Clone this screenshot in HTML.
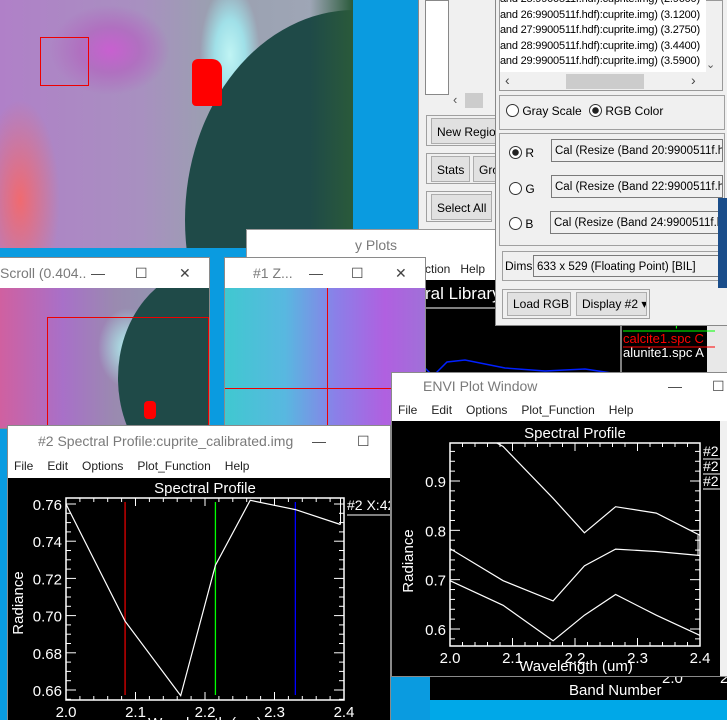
<!DOCTYPE html>
<html><head><meta charset="utf-8">
<style>
html,body{margin:0;padding:0;width:727px;height:720px;overflow:hidden;background:#0a9be0;font-family:"Liberation Sans",sans-serif}
#root{position:relative;width:727px;height:720px}
.abs{position:absolute}
.win{position:absolute;background:#fff;box-shadow:0 0 0 1px #8a8a8a}
.title{position:absolute;left:0;right:0;top:0;height:30px;background:#fff;color:#7a7a7a;font-size:14px;line-height:30px;white-space:nowrap;overflow:hidden}
.menu{position:absolute;left:0;right:0;font-size:12px;color:#222;background:#fff;white-space:nowrap}
.menu span{margin-left:6px;margin-right:8px}
.btn{position:absolute;background:#e1e1e1;border:1px solid #adadad;font-size:12px;line-height:26px;padding:0 5px;color:#000;box-sizing:border-box;white-space:nowrap;overflow:hidden}
.grp{position:absolute;border:1px solid #a0a0a0;box-sizing:border-box}
.inp{position:absolute;background:#f0f0f0;border:1px solid #7a7a7a;font-size:11.5px;line-height:22px;padding-left:3px;box-sizing:border-box;white-space:nowrap;overflow:hidden}
.ic{position:absolute;color:#444;background:#fff;padding:0 4px}
svg text{font-family:"Liberation Sans",sans-serif}
</style></head><body>
<div id="root">

<!-- main image -->
<div class="abs" style="left:0;top:0;width:353px;height:248px;overflow:hidden;background:
radial-gradient(ellipse 60px 45px at 110px 50px,#c860d0 0,#b070c0 50%,transparent 100%),
radial-gradient(ellipse 40px 100px at 20px 200px,#f06a70 0,transparent 100%),
linear-gradient(90deg,#b080c8 0,#a890c0 40%,#9aa0b0 60%,#a0a8b8 100%)">
  <div class="abs" style="left:200px;top:0;width:60px;height:130px;background:radial-gradient(ellipse 30px 70px at 30px 55px,#c0f4f4 0,#a0e0e8 50%,transparent 100%)"></div>
  <div class="abs" style="left:185px;top:10px;width:340px;height:420px;border-radius:50%;background:#1f4a48"></div>
  <div class="abs" style="left:310px;top:0;width:43px;height:248px;background:linear-gradient(90deg,transparent,#2a5a3a)"></div>
  <div class="abs" style="left:192px;top:59px;width:30px;height:47px;background:#f00;border-radius:6px 10px 2px 4px"></div>
  <div class="abs" style="left:40px;top:37px;width:49px;height:49px;border:1px solid #e00;box-sizing:border-box"></div>
</div>

<!-- left gray panel -->
<div class="abs" style="left:418px;top:0;width:80px;height:230px;background:#f0f0f0;border-left:1px solid #888;border-bottom:1px solid #888">
  <div class="abs" style="left:6px;top:0;width:22px;height:93px;background:#fff;border:1px solid #888"></div>
  <div class="abs" style="left:34px;top:92px;font-size:13px;color:#555">‹</div>
  <div class="abs" style="left:46px;top:93px;width:18px;height:15px;background:#ccc"></div>
  <div class="grp" style="left:7px;top:115px;width:78px;height:31px"></div>
  <div class="btn" style="left:12px;top:118px;width:80px;height:26px">New Region</div>
  <div class="grp" style="left:7px;top:153px;width:78px;height:31px"></div>
  <div class="btn" style="left:12px;top:156px;height:26px">Stats</div>
  <div class="btn" style="left:54px;top:156px;height:26px;width:30px">Gro</div>
  <div class="grp" style="left:7px;top:191px;width:66px;height:31px"></div>
  <div class="btn" style="left:12px;top:194px;height:26px">Select All</div>
</div>

<!-- spectral library plots window (behind) -->
<div class="abs" style="left:247px;top:230px;width:480px;height:150px;background:#fff;box-shadow:0 0 0 1px #999">
  <div class="abs" style="left:108px;top:7px;font-size:14px;color:#7a7a7a">y Plots</div>
  <div class="abs" style="left:178px;top:32px;font-size:12px;color:#222">ction &nbsp; Help</div>
  <div class="abs" style="left:178px;top:50px;width:282px;height:100px;background:#000"></div>
  <div class="abs" style="left:460px;top:50px;width:20px;height:100px;background:#e8e8e8"></div>
</div>
<svg class="abs" style="left:425px;top:280px" width="290" height="100">
  <text x="0" y="19" fill="#fff" font-size="17">ral Library</text>
  <line x1="0" y1="28" x2="70" y2="28" stroke="#fff"/>
  <polyline points="0,88 8,96 22,82 40,80 80,88 120,91 160,89 200,95 220,99" fill="none" stroke="#0020ff" stroke-width="1.5"/>
  <line x1="196" y1="40" x2="196" y2="100" stroke="#fff"/>
  <text x="198" y="46" fill="#0f0" font-size="13">basalt1.spc</text>
  <line x1="198" y1="51" x2="290" y2="51" stroke="#0f0"/>
  <text x="198" y="63" fill="#f00" font-size="13">calcite1.spc C</text>
  <line x1="198" y1="67" x2="290" y2="67" stroke="#f00"/>
  <text x="198" y="77" fill="#fff" font-size="13">alunite1.spc A</text>
</svg>

<!-- available bands panel -->
<div class="abs" style="left:495px;top:0;width:232px;height:326px;background:#f0f0f0;border-left:1px solid #888;border-bottom:1px solid #888;box-sizing:border-box">
  <div class="abs" style="left:3px;top:0;width:224px;height:91px;border:1px solid #999;background:#f0f0f0;box-sizing:border-box"></div>
  <div class="abs" style="left:4px;top:0;width:206px;height:72px;background:#fff;font-size:11px;letter-spacing:-0.2px;line-height:15.5px;color:#000;white-space:nowrap;overflow:hidden">
    <div style="margin-top:-8px">and 25:9900511f.hdf):cuprite.img) (2.9600)</div>
    <div>and 26:9900511f.hdf):cuprite.img) (3.1200)</div>
    <div>and 27:9900511f.hdf):cuprite.img) (3.2750)</div>
    <div>and 28:9900511f.hdf):cuprite.img) (3.4400)</div>
    <div>and 29:9900511f.hdf):cuprite.img) (3.5900)</div>
  </div>
  <div class="abs" style="left:210px;top:58px;font-size:11px;color:#555">⌄</div>
  <div class="abs" style="left:9px;top:72px;font-size:14px;color:#444">‹</div>
  <div class="abs" style="left:70px;top:74px;width:78px;height:15px;background:#ccc"></div>
  <div class="abs" style="left:195px;top:72px;font-size:14px;color:#444">›</div>

  <div class="grp" style="left:3px;top:95px;width:226px;height:35px"></div>
  <div class="abs" style="left:10px;top:104px;font-size:12px"><span style="display:inline-block;width:11px;height:11px;border:1px solid #333;border-radius:50%;vertical-align:-2px;background:#fff"></span> Gray Scale</div>
  <div class="abs" style="left:93px;top:104px;font-size:12px"><span style="display:inline-block;width:11px;height:11px;border:1px solid #333;border-radius:50%;vertical-align:-2px;background:radial-gradient(circle,#222 0,#222 3px,#fff 3.5px)"></span> RGB Color</div>

  <div class="grp" style="left:3px;top:133px;width:226px;height:113px"></div>
  <div class="abs" style="left:13px;top:146px;font-size:12px"><span style="display:inline-block;width:11px;height:11px;border:1px solid #333;border-radius:50%;vertical-align:-2px;background:radial-gradient(circle,#222 0,#222 3px,#fff 3.5px)"></span> R</div>
  <div class="abs" style="left:13px;top:182px;font-size:12px"><span style="display:inline-block;width:11px;height:11px;border:1px solid #333;border-radius:50%;vertical-align:-2px;background:#fff"></span> G</div>
  <div class="abs" style="left:13px;top:217px;font-size:12px"><span style="display:inline-block;width:11px;height:11px;border:1px solid #333;border-radius:50%;vertical-align:-2px;background:#fff"></span> B</div>
  <div class="inp" style="left:55px;top:139px;width:172px;height:23px">Cal (Resize (Band 20:9900511f.hdf</div>
  <div class="inp" style="left:55px;top:175px;width:172px;height:23px">Cal (Resize (Band 22:9900511f.hdf</div>
  <div class="inp" style="left:54px;top:211px;width:173px;height:23px">Cal (Resize (Band 24:9900511f.hdf</div>

  <div class="grp" style="left:6px;top:251px;width:220px;height:30px"></div>
  <div class="abs" style="left:9px;top:259px;font-size:12px">Dims</div>
  <div class="inp" style="left:37px;top:255px;width:186px;height:22px;background:#f0f0f0">633 x 529 (Floating Point) [BIL]</div>

  <div class="grp" style="left:6px;top:289px;width:148px;height:30px"></div>
  <div class="btn" style="left:11px;top:292px;width:64px;height:24px;line-height:22px">Load RGB</div>
  <div class="btn" style="left:80px;top:292px;width:71px;height:24px;line-height:22px">Display #2 ▾</div>
</div>
<div class="abs" style="left:718px;top:198px;width:9px;height:90px;background:#1a4d8a"></div>

<!-- scroll window -->
<div class="win" style="left:0;top:258px;width:209px;height:170px">
  <div class="title">Scroll (0.404...<span class="ic" style="left:87px">—</span><span class="ic" style="left:131px">☐</span><span class="ic" style="left:175px">✕</span></div>
  <div class="abs" style="left:0;top:30px;width:209px;height:140px;overflow:hidden;background:
  radial-gradient(ellipse 30px 40px at 128px 60px,#b0f0f0,transparent),
  linear-gradient(90deg,#d060a0 0,#a870c8 30%,#9a8ab0 55%,#8aa0b0 100%)">
    <div class="abs" style="left:118px;top:-20px;width:180px;height:220px;border-radius:50%;background:#1f4a48"></div>
    <div class="abs" style="left:47px;top:29px;width:162px;height:120px;border:1px solid #e00;box-sizing:border-box"></div>
    <div class="abs" style="left:144px;top:113px;width:12px;height:18px;background:#f00;border-radius:4px"></div>
  </div>
</div>

<!-- zoom window -->
<div class="win" style="left:225px;top:258px;width:200px;height:170px">
  <div class="title"><span style="position:absolute;left:28px">#1 Z...</span><span class="ic" style="left:80px">—</span><span class="ic" style="left:122px">☐</span><span class="ic" style="left:166px">✕</span></div>
  <div class="abs" style="left:0;top:30px;width:200px;height:140px;background:
  linear-gradient(90deg,#40c8d0 0,#58b8e0 30%,#8a80e8 55%,#b060e0 80%,#a070d8 100%)">
    <div class="abs" style="left:102px;top:0;width:1px;height:140px;background:#e00"></div>
    <div class="abs" style="left:0;top:100px;width:200px;height:1px;background:#e00"></div>
  </div>
</div>

<!-- ENVI plot window backdrop -->
<div class="abs" style="left:430px;top:670px;width:297px;height:30px;background:#000"></div>
<div class="abs" style="left:430px;top:700px;width:297px;height:20px;background:#00a8e8"></div>
<svg class="abs" style="left:430px;top:670px" width="297" height="30">
  <text x="232" y="13" fill="#fff" font-size="15">2.0</text>
  <text x="290" y="13" fill="#fff" font-size="15">2.5</text>
  <text x="139" y="25" fill="#fff" font-size="15">Band Number</text>
</svg>

<!-- spectral profile window -->
<div class="win" style="left:8px;top:426px;width:382px;height:294px">
  <div class="title"><span style="position:absolute;left:30px">#2 Spectral Profile:cuprite_calibrated.img</span><span class="ic" style="left:300px">—</span><span class="ic" style="left:345px">☐</span></div>
  <div class="menu" style="top:30px;height:21px;line-height:21px"><span>File</span><span>Edit</span><span>Options</span><span>Plot_Function</span><span>Help</span></div>
  <svg class="abs" id="chart1" style="left:0;top:52px" width="382" height="242"></svg>
</div>

<!-- ENVI plot window -->
<div class="win" style="left:392px;top:373px;width:335px;height:303px">
  <div class="title" style="height:26px;line-height:26px"><span style="position:absolute;left:31px">ENVI Plot Window</span><span class="ic" style="left:272px">—</span><span class="ic" style="left:316px">☐</span></div>
  <div class="menu" style="top:26px;height:22px;line-height:22px"><span>File</span><span>Edit</span><span>Options</span><span>Plot_Function</span><span>Help</span></div>
  <svg class="abs" id="chart2" style="left:0;top:48px" width="328" height="255"></svg>
  <div class="abs" style="left:328px;top:48px;width:7px;height:255px;background:#f0f0f0"></div>
</div>

<script>
// Chart 1 data
const wl1 = [2.0, 2.085, 2.165, 2.215, 2.265, 2.33, 2.395];
const rad1 = [0.760, 0.697, 0.657, 0.727, 0.762, 0.757, 0.749];
const bandLines = [2.085, 2.215, 2.33];
const bandColors = ["#e00000", "#00ff00", "#0000ff"];
const yTicks1 = [0.66, 0.68, 0.70, 0.72, 0.74, 0.76];
const xTicks = [2.0, 2.1, 2.2, 2.3, 2.4];

// Chart 2 data
const wl2 = [2.0, 2.085, 2.165, 2.215, 2.265, 2.33, 2.4];
const radTop = [1.03, 0.970, 0.865, 0.795, 0.848, 0.835, 0.790];
const radMid = [0.763, 0.698, 0.657, 0.728, 0.762, 0.757, 0.749];
const radLow = [0.698, 0.648, 0.576, 0.628, 0.670, 0.628, 0.587];
const yTicks2 = [0.6, 0.7, 0.8, 0.9];

const NS = "http://www.w3.org/2000/svg";
function mk(svg, tag, attrs, txt) {
  const e = document.createElementNS(NS, tag);
  for (const k in attrs) e.setAttribute(k, attrs[k]);
  if (txt !== undefined) e.textContent = txt;
  svg.appendChild(e);
  return e;
}
function drawFrame(svg, X, Y, L, R, T, B, yt, fmt, xminor, yminor, ymin, ymax) {
  const f = mk(svg, "rect", {x: L, y: T, width: R - L, height: B - T, fill: "none", stroke: "#fff", "stroke-width": 1.5});
  
  
  for (let v = 2.0; v <= 2.4001; v += 0.02) {
    const big = Math.abs(v * 10 - Math.round(v * 10)) < 1e-6;
    const len = big ? 8 : 4;
    mk(svg, "line", {x1: X(v), y1: B, x2: X(v), y2: B - len, stroke: "#fff"});
    mk(svg, "line", {x1: X(v), y1: T, x2: X(v), y2: T + len, stroke: "#fff"});
  }
  for (let v = ymin; v <= ymax + 1e-9; v += yminor) {
    const big = yt.some(t => Math.abs(t - v) < 1e-6);
    const len = big ? 10 : 5;
    mk(svg, "line", {x1: L, y1: Y(v), x2: L + len, y2: Y(v), stroke: "#fff"});
    mk(svg, "line", {x1: R, y1: Y(v), x2: R - len, y2: Y(v), stroke: "#fff"});
  }
  yt.forEach(t => {
    const tx = mk(svg, "text", {x: L - 4, y: Y(t) + 6, fill: "#fff", "font-size": 15, "text-anchor": "end"}, fmt(t));
    
    
  });
  xTicks.forEach(t => {
    const tx = mk(svg, "text", {x: X(t), y: B + 17, fill: "#fff", "font-size": 15, "text-anchor": "middle"}, t.toFixed(1));
    
    
  });
}
function poly(svg, xs, ys, X, Y, name) {
  const pts = xs.map((x, i) => X(x).toFixed(1) + "," + Y(ys[i]).toFixed(1)).join(" ");
  const p = mk(svg, "polyline", {points: pts, fill: "none", stroke: "#fff", "stroke-width": 1.2, "clip-path": "url(#" + svg.id + "clip)"});
  
  
}

// ---- Chart 1 ----
(function () {
  const svg = document.getElementById("chart1");
  mk(svg, "rect", {x: 0, y: 0, width: 382, height: 242, fill: "#000"});
  const L = 58, R = 336, T = 20, B = 222;
  const X = v => L + (v - 2.0) / 0.4 * (R - L);
  const Y = v => 26 + (0.76 - v) / 0.10 * 186;
  const cp = mk(svg, "clipPath", {id: "chart1clip"});
  mk(cp, "rect", {x: L, y: T, width: R - L, height: B - T});
  const t = mk(svg, "text", {x: 197, y: 15, fill: "#fff", "font-size": 15, "text-anchor": "middle"}, "Spectral Profile");
  
  
  drawFrame(svg, X, Y, L, R, T, B, yTicks1, v => v.toFixed(2), 0.02, 0.005, 0.655, 0.7632);
  bandLines.forEach((b, i) => {
    const l = mk(svg, "line", {x1: X(b), y1: T + 4, x2: X(b), y2: B - 5, stroke: bandColors[i], "stroke-width": 1.3});
    
    
  });
  poly(svg, wl1, rad1, X, Y, 'spectrum-line');
  const last = wl1.length - 1;
  mk(svg, "line", {x1: X(wl1[last]), y1: Y(rad1[last]), x2: X(wl1[last]), y2: T, stroke: "#fff"});
  const lg = mk(svg, "text", {x: 339, y: 32, fill: "#fff", "font-size": 14}, "#2 X:42");
  
  
  mk(svg, "line", {x1: 339, y1: 37, x2: 382, y2: 37, stroke: "#fff"});
  const ya = mk(svg, "text", {x: 0, y: 0, fill: "#fff", "font-size": 15, "text-anchor": "middle", transform: "translate(15,125) rotate(-90)"}, "Radiance");
  
  
  const xa = mk(svg, "text", {x: 197, y: 250, fill: "#fff", "font-size": 15, "text-anchor": "middle"}, "Wavelength (um)");
  
  
})();

// ---- Chart 2 ----
(function () {
  const svg = document.getElementById("chart2");
  mk(svg, "rect", {x: 0, y: 0, width: 328, height: 255, fill: "#000"});
  const L = 58, R = 308, T = 22, B = 225;
  const X = v => L + (v - 2.0) / 0.4 * (R - L);
  const Y = v => 60 + (0.9 - v) / 0.3 * 148;
  const cp = mk(svg, "clipPath", {id: "chart2clip"});
  mk(cp, "rect", {x: L, y: T, width: R - L, height: B - T});
  const t = mk(svg, "text", {x: 183, y: 17, fill: "#fff", "font-size": 15, "text-anchor": "middle"}, "Spectral Profile");
  
  
  drawFrame(svg, X, Y, L, R, T, B, yTicks2, v => v.toFixed(1), 0.02, 0.02, 0.58, 0.96);
  poly(svg, wl2, radTop, X, Y, 'spectrum-top');
  poly(svg, wl2, radMid, X, Y, 'spectrum-mid');
  poly(svg, wl2, radLow, X, Y, 'spectrum-low');
  mk(svg, "line", {x1: R - 2, y1: Y(radTop[6]), x2: R - 2, y2: Y(radMid[6]), stroke: "#fff"});
  [0, 1, 2].forEach(i => {
    const lg = mk(svg, "text", {x: 311, y: 35 + i * 15, fill: "#fff", "font-size": 14}, "#2");
    
    
    mk(svg, "line", {x1: 311, y1: 38 + i * 15, x2: 328, y2: 38 + i * 15, stroke: "#fff"});
  });
  const ya = mk(svg, "text", {x: 0, y: 0, fill: "#fff", "font-size": 15, "text-anchor": "middle", transform: "translate(21,140) rotate(-90)"}, "Radiance");
  
  
  const xa = mk(svg, "text", {x: 184, y: 250, fill: "#fff", "font-size": 15, "text-anchor": "middle"}, "Wavelength (um)");
  
  
})();
</script>
</div>
</body></html>
